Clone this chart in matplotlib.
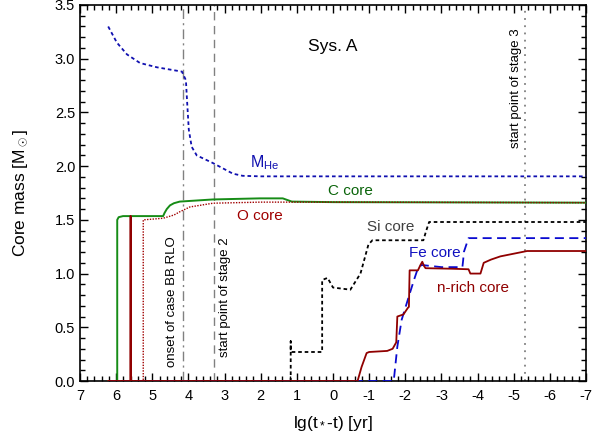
import matplotlib
matplotlib.use("Agg")
import matplotlib.pyplot as plt
from matplotlib.ticker import MultipleLocator

plt.rcParams['font.family'] = ['Liberation Sans', 'DejaVu Sans']
plt.rcParams['mathtext.fontset'] = 'custom'
plt.rcParams['mathtext.rm'] = 'Liberation Sans'
plt.rcParams['mathtext.it'] = 'Liberation Sans'

# ---- data ----
mhe_x = [6.22, 5.98, 5.70, 5.34, 4.87, 4.18, 4.07, 4.04, 3.99, 3.91, 3.77, 3.33, 2.77, 2.5, 2.0, -7.0]
mhe_y = [3.30, 3.15, 3.04, 2.96, 2.92, 2.88, 2.80, 2.62, 2.34, 2.18, 2.10, 2.03, 1.93, 1.91, 1.905, 1.905]

c_x = [6.22, 5.97, 5.97, 5.93, 5.81, 4.70, 4.66, 4.60, 4.51, 4.40, 4.24, 3.32, 2.03, 1.39, 1.14, 0.0, -7.0]
c_y = [0.0, 0.0, 1.50, 1.525, 1.535, 1.535, 1.565, 1.60, 1.635, 1.655, 1.67, 1.69, 1.70, 1.70, 1.67, 1.665, 1.66]

o_x = [6.22, 5.25, 5.25, 4.70, 4.40, 4.24, 3.96, 3.32, 2.0, 0.0, -7.0]
o_y = [0.0, 0.0, 1.50, 1.515, 1.545, 1.575, 1.62, 1.655, 1.665, 1.665, 1.66]

si_x = [6.22, 1.17, 1.17, 1.17, 0.30, 0.30, 0.15, 0.0, -0.48, -0.76, -0.98, -1.09, -2.50, -2.58, -2.66, -7.0]
si_y = [0.0, 0.0, 0.37, 0.27, 0.27, 0.94, 0.96, 0.87, 0.85, 1.00, 1.27, 1.31, 1.31, 1.40, 1.48, 1.48]

fe_x = [6.22, -1.68, -1.78, -1.90, -2.11, -2.25, -2.35, -2.45, -3.0, -3.58, -3.60, -3.62, -3.75, -7.0]
fe_y = [0.0, 0.0, 0.32, 0.57, 0.80, 0.95, 1.05, 1.08, 1.06, 1.06, 1.12, 1.20, 1.33, 1.33]

nr_x = [6.22, 5.60, 5.60, 5.60, -0.68, -0.79, -0.93, -1.0, -1.5, -1.65, -1.75, -1.78, -1.95, -2.07,
        -2.10, -2.12, -2.35, -2.42, -2.47, -2.52, -2.56, -3.3, -3.75, -3.80, -4.08, -4.17, -4.37,
        -4.63, -5.37, -7.0]
nr_y = [0.0, 0.0, 1.535, 0.0, 0.0, 0.13, 0.26, 0.27, 0.28, 0.30, 0.36, 0.60, 0.62, 0.68,
        0.69, 1.03, 1.03, 1.08, 1.11, 1.07, 1.05, 1.045, 1.04, 1.00, 1.00, 1.10, 1.13,
        1.16, 1.21, 1.21]

vline_bb = 4.16
vline_s2 = 3.30
vline_s3 = -5.30

xticks = [7, 6, 5, 4, 3, 2, 1, 0, -1, -2, -3, -4, -5, -6, -7]

# ---- figure ----
fig = plt.figure(figsize=(5.97, 4.44), dpi=100)
ax = fig.add_axes([80/597, 1-381/444, (586-80)/597, (381-5)/444])

gray = '#808080'
ax.axvline(vline_bb, color=gray, lw=1.0, ls=(0, (7, 3, 1.5, 3)), zorder=1)
ax.axvline(vline_s2, color=gray, lw=1.0, ls=(0, (6, 4)), zorder=1)
ax.axvline(vline_s3, color=gray, lw=1.3, ls=(0, (1, 3)), zorder=1)

ax.plot(mhe_x, mhe_y, color='#1010b0', lw=1.3, ls=(0, (2, 1.6)), zorder=3)
ax.plot(c_x, c_y, color='#168c16', lw=1.4, zorder=3)
ax.plot(o_x, o_y, color='#a00000', lw=1.0, ls=(0, (1, 1)), zorder=4)
ax.plot(si_x, si_y, color='black', lw=1.3, ls=(0, (2, 1.6)), zorder=3)
ax.plot(fe_x, fe_y, color='#0a0ad0', lw=1.3, ls=(0, (5, 3)), zorder=3)
ax.plot(nr_x, nr_y, color='#900000', lw=1.3, zorder=5)

ax.set_xlim(7, -7)
ax.set_ylim(0, 3.5)
ax.set_xticks(xticks)
ax.set_xticklabels([str(t) for t in xticks])
ax.xaxis.set_minor_locator(MultipleLocator(0.2))
ax.yaxis.set_major_locator(MultipleLocator(0.5))
ax.yaxis.set_minor_locator(MultipleLocator(0.1))
ax.yaxis.set_major_formatter(matplotlib.ticker.FormatStrFormatter('%.1f'))
ax.tick_params(which='both', direction='in', top=True, right=True, labelsize=10.5)
ax.tick_params(which='major', length=6, width=1)
ax.tick_params(which='minor', length=3.5, width=1)
ax.tick_params(axis='x', pad=6)
for s in ax.spines.values():
    s.set_linewidth(1.2)

ax.set_xlabel(r'lg(t$_*$-t) [yr]', fontsize=12.5, labelpad=8)
ax.set_ylabel(r'Core mass [M$_\odot$]', fontsize=12.5, labelpad=18)

ax.text(0.0, 3.11, 'Sys. A', fontsize=12.5, ha='center', va='center')
ax.text(2.29, 1.99, r'M$_{\mathregular{He}}$', fontsize=11.5, color='#1010b0', ha='left', va='baseline')
ax.text(-0.48, 1.77, 'C core', fontsize=11, color='#0a640a', ha='center', va='center')
ax.text(2.01, 1.54, 'O core', fontsize=11, color='#a00000', ha='center', va='center')
ax.text(-1.59, 1.43, 'Si core', fontsize=11, color='#404040', ha='center', va='center')
ax.text(-2.83, 1.19, 'Fe core', fontsize=11, color='#1010c0', ha='center', va='center')
ax.text(-3.86, 0.87, 'n-rich core', fontsize=11, color='#900000', ha='center', va='center')

ax.text(4.45, 0.13, 'onset of case BB RLO', fontsize=9.5, rotation=90, ha='center', va='bottom')
ax.text(2.98, 0.22, 'start point of stage 2', fontsize=9.5, rotation=90, ha='center', va='bottom')
ax.text(-5.05, 2.17, 'start point of stage 3', fontsize=9.5, rotation=90, ha='center', va='bottom')

fig.savefig('out.png', dpi=100)
